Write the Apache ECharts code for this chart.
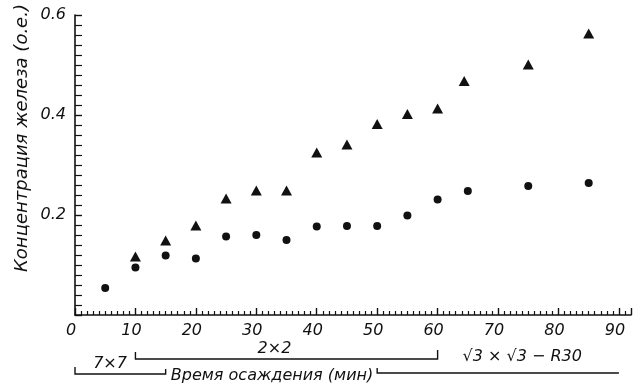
<!DOCTYPE html>
<html>
<head>
<meta charset="utf-8">
<script src="https://cdn.jsdelivr.net/npm/echarts@6/dist/echarts.min.js"></script>
<style>
  html, body { margin: 0; padding: 0; background: #fff; }
  #chart { width: 634px; height: 386px; }
</style>
</head>
<body>
<div id="chart"></div>
<script>
// точки (время, мин / концентрация, о.е.)
var circleX = [5, 10, 15, 20, 25, 30, 35, 40, 45, 50, 55, 60, 65, 75, 85];
var circleY = [0.054, 0.095, 0.119, 0.113, 0.157, 0.160, 0.150, 0.177, 0.178, 0.178, 0.199, 0.231, 0.248, 0.258, 0.264];
var triangleX = [10, 15, 20, 25, 30, 35, 40, 45, 50, 55, 60, 64.4, 75, 85];
var triangleY = [0.117, 0.149, 0.179, 0.233, 0.249, 0.249, 0.325, 0.341, 0.382, 0.402, 0.413, 0.468, 0.501, 0.563];

// фазы поверхности по времени
var phaseNames = ['7×7', '2×2', '√3 × √3 − R30'];
var phaseFrom = [0, 10, 50];
var phaseTo = [15, 60, 90];

var yTicks = [0.2, 0.4, 0.6];

var FONT = "'DejaVu Sans', sans-serif";
var INK = '#111';

var chartDom = document.getElementById('chart');
var myChart = echarts.init(chartDom);

function pairs(xs, ys) {
    var out = [];
    for (var i = 0; i < xs.length; i++) out.push([xs[i], ys[i]]);
    return out;
}

var option = {
    animation: false,
    grid: { left: 75, right: 3, top: 15, bottom: 71 },
    xAxis: {
        type: 'value',
        min: 0,
        max: 92,
        interval: 10,
        axisLine: { lineStyle: { color: INK, width: 1.6 } },
        axisTick: { inside: true, length: 7, lineStyle: { color: INK, width: 1.4 } },
        minorTick: { show: true, splitNumber: 10, length: 4, lineStyle: { color: INK, width: 1.2 } },
        splitLine: { show: false },
        axisLabel: {
            color: INK, fontSize: 16, fontStyle: 'italic', fontFamily: FONT,
            margin: 8, padding: [0, 8, 0, 0], showMaxLabel: false
        }
    },
    yAxis: {
        type: 'value',
        min: 0,
        max: 0.6,
        interval: 0.2,
        axisLine: { show: true, lineStyle: { color: INK, width: 1.6 } },
        axisTick: { inside: true, length: 7, lineStyle: { color: INK, width: 1.4 } },
        minorTick: { show: true, splitNumber: 10, length: 7, lineStyle: { color: INK, width: 1.2 } },
        splitLine: { show: false },
        axisLabel: {
            color: INK, fontSize: 16, fontStyle: 'italic', fontFamily: FONT, margin: 9,
            formatter: function (v) {
                for (var i = 0; i < yTicks.length; i++) {
                    if (Math.abs(v - yTicks[i]) < 1e-6) return yTicks[i].toFixed(1);
                }
                return '';
            }
        }
    },
    series: [
        {
            name: 'круги',
            type: 'scatter',
            data: pairs(circleX, circleY),
            symbol: 'circle',
            symbolSize: 8,
            itemStyle: { color: INK, opacity: 1 }
        },
        {
            name: 'треугольники',
            type: 'scatter',
            data: pairs(triangleX, triangleY),
            symbol: 'triangle',
            symbolSize: [11, 10],
            itemStyle: { color: INK, opacity: 1 }
        }
    ]
};
myChart.setOption(option);

// подписи фаз под осью — скобки по времени
var px = function (v) { return myChart.convertToPixel({ xAxisIndex: 0 }, v); };
// раскладка скобок: высота линии, высота концов, положение текста
var layout = [
    { lineY: 374, upL: 7, upR: 5, textAt: 5.8, textY: 364 },
    { lineY: 359, upL: 7, upR: 9, textAt: 33, textY: 349 },
    { lineY: 373, upL: 5, upR: 0, textAt: 74, textY: 357 }
];
var textStyle = { fill: INK, fontSize: 16, fontStyle: 'italic', fontFamily: FONT, align: 'center', verticalAlign: 'middle' };
var graphics = [];
for (var i = 0; i < phaseNames.length; i++) {
    var L = layout[i];
    var x0 = px(phaseFrom[i]), x1 = px(phaseTo[i]);
    var pts = [[x0, L.lineY - L.upL], [x0, L.lineY], [x1, L.lineY]];
    if (L.upR) pts.push([x1, L.lineY - L.upR]);
    graphics.push({
        type: 'polyline', silent: true,
        shape: { points: pts },
        style: { stroke: INK, lineWidth: 1.4, fill: null }
    });
    graphics.push({
        type: 'text', silent: true,
        x: px(L.textAt), y: L.textY,
        style: Object.assign({ text: phaseNames[i] }, textStyle)
    });
}
// подпись оси X
graphics.push({
    type: 'text', silent: true,
    x: px(32.6), y: 376,
    style: Object.assign({ text: 'Время осаждения (мин)' }, textStyle)
});
// подпись оси Y
graphics.push({
    type: 'text', silent: true,
    x: 22, y: 138, rotation: Math.PI / 2,
    style: Object.assign({}, textStyle, { text: 'Концентрация железа (о.е.)', fontSize: 18 })
});
myChart.setOption({ graphic: graphics });
</script>
</body>
</html>
